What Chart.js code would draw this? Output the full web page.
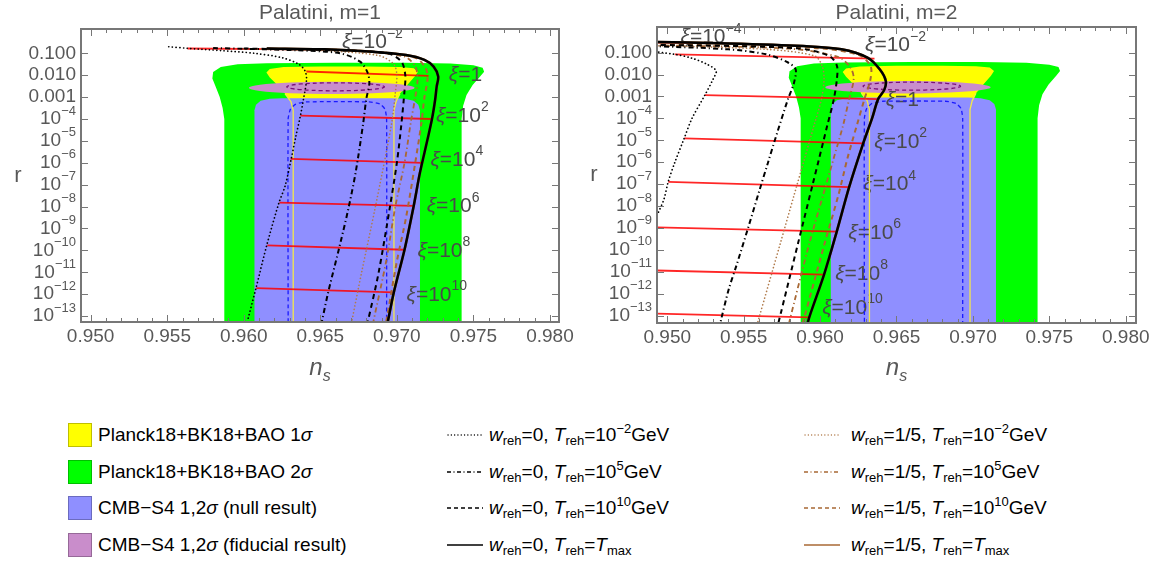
<!DOCTYPE html>
<html>
<head>
<meta charset="utf-8">
<script src="https://cdn.jsdelivr.net/npm/chart.js@4.4.1/dist/chart.umd.min.js"></script>
<style>
html,body{margin:0;padding:0;background:#fff;}
body{position:relative;width:1164px;height:565px;overflow:hidden;font-family:"Liberation Sans",Arial,sans-serif;}
canvas{position:absolute;top:0;}
#cL{left:0;}
#cR{left:582px;}
.sq{position:absolute;left:68px;width:24px;height:24px;box-sizing:border-box;border:1px solid rgba(0,0,0,0.25);}
.lt{position:absolute;height:24px;line-height:24px;font-size:19px;color:#000;white-space:nowrap;}
.lt sub{font-size:13px;vertical-align:-4px;line-height:0;}
.lt sup{font-size:13px;vertical-align:8px;line-height:0;}
svg{position:absolute;}
</style>
</head>
<body>
<canvas id="cL" width="582" height="400"></canvas>
<canvas id="cR" width="582" height="400"></canvas>

<div class="sq" style="top:423px;background:#ffff00"></div>
<div class="lt" style="left:98px;top:423px">Planck18+BK18+BAO 1<i>σ</i></div>
<div class="sq" style="top:460px;background:#00ff00"></div>
<div class="lt" style="left:98px;top:460px">Planck18+BK18+BAO 2<i>σ</i></div>
<div class="sq" style="top:496px;background:#8f8fff"></div>
<div class="lt" style="left:98px;top:496px">CMB−S4 1,2<i>σ</i> (null result)</div>
<div class="sq" style="top:533px;background:#c98dcb"></div>
<div class="lt" style="left:98px;top:533px">CMB−S4 1,2<i>σ</i> (fiducial result)</div>

<svg style="left:447px;top:430px" width="36" height="10"><line x1="1" y1="5" x2="35" y2="5" stroke="#000" stroke-width="1.3" stroke-linecap="round" stroke-dasharray="0.1 3.2"/></svg>
<div class="lt" style="left:489px;top:423px"><i>w</i><sub>reh</sub>=0, <i>T</i><sub>reh</sub>=10<sup>−2</sup>GeV</div>
<svg style="left:447px;top:467px" width="36" height="10"><line x1="0" y1="5" x2="36" y2="5" stroke="#000" stroke-width="1.3" stroke-dasharray="4 2.5 1 2.5"/></svg>
<div class="lt" style="left:489px;top:460px"><i>w</i><sub>reh</sub>=0, <i>T</i><sub>reh</sub>=10<sup>5</sup>GeV</div>
<svg style="left:447px;top:503px" width="36" height="10"><line x1="0" y1="5" x2="36" y2="5" stroke="#000" stroke-width="1.3" stroke-dasharray="4 3"/></svg>
<div class="lt" style="left:489px;top:496px"><i>w</i><sub>reh</sub>=0, <i>T</i><sub>reh</sub>=10<sup>10</sup>GeV</div>
<svg style="left:447px;top:540px" width="36" height="10"><line x1="0" y1="5" x2="36" y2="5" stroke="#000" stroke-width="1.6"/></svg>
<div class="lt" style="left:489px;top:533px"><i>w</i><sub>reh</sub>=0, <i>T</i><sub>reh</sub>=<i>T</i><sub>max</sub></div>

<svg style="left:804px;top:430px" width="36" height="10"><line x1="1" y1="5" x2="35" y2="5" stroke="#b07a4a" stroke-width="1.3" stroke-linecap="round" stroke-dasharray="0.1 3.2"/></svg>
<div class="lt" style="left:851px;top:423px"><i>w</i><sub>reh</sub>=1/5, <i>T</i><sub>reh</sub>=10<sup>−2</sup>GeV</div>
<svg style="left:804px;top:467px" width="36" height="10"><line x1="0" y1="5" x2="36" y2="5" stroke="#a86834" stroke-width="1.3" stroke-dasharray="4 2.5 1 2.5"/></svg>
<div class="lt" style="left:851px;top:460px"><i>w</i><sub>reh</sub>=1/5, <i>T</i><sub>reh</sub>=10<sup>5</sup>GeV</div>
<svg style="left:804px;top:503px" width="36" height="10"><line x1="0" y1="5" x2="36" y2="5" stroke="#a86834" stroke-width="1.3" stroke-dasharray="4 3"/></svg>
<div class="lt" style="left:851px;top:496px"><i>w</i><sub>reh</sub>=1/5, <i>T</i><sub>reh</sub>=10<sup>10</sup>GeV</div>
<svg style="left:804px;top:540px" width="36" height="10"><line x1="0" y1="5" x2="36" y2="5" stroke="#a86834" stroke-width="1.6"/></svg>
<div class="lt" style="left:851px;top:533px"><i>w</i><sub>reh</sub>=1/5, <i>T</i><sub>reh</sub>=<i>T</i><sub>max</sub></div>

<script>
// ---------------- axis ticks ----------------
const xTickValues = [0.950, 0.955, 0.960, 0.965, 0.970, 0.975, 0.980];
const xTickLabels = ['0.950', '0.955', '0.960', '0.965', '0.970', '0.975', '0.980'];
const xMinorTicks = [0.951,0.952,0.953,0.954,0.956,0.957,0.958,0.959,0.961,0.962,0.963,0.964,0.966,0.967,0.968,0.969,0.971,0.972,0.973,0.974,0.976,0.977,0.978,0.979];
const yTickExponents = [-13,-12,-11,-10,-9,-8,-7,-6,-5,-4,-3,-2,-1];
const yTickBase = ['10','10','10','10','10','10','10','10','10','10','0.001','0.010','0.100'];
const yTickSup  = ['−13','−12','−11','−10','−9','−8','−7','−6','−5','−4','','',''];

// ---------------- observational contours (ns, log10 r) ----------------
const greenNs  = [0.95873,0.95873,0.95862,0.95843,0.95818,0.95795,0.95800,0.95850,0.95960,0.96150,0.96600,0.97050,0.97350,0.97500,0.97560,0.97570,0.97545,0.97495,0.97455,0.97433,0.97423,0.97423];
const greenLog = [-13.6,-4.0,-3.5,-3.0,-2.55,-2.15,-1.85,-1.62,-1.50,-1.45,-1.43,-1.43,-1.46,-1.55,-1.66,-1.84,-2.05,-2.45,-2.9,-3.4,-4.0,-13.6];
const yellowNs  = [0.96323,0.96323,0.96308,0.96270,0.96220,0.96170,0.96148,0.96170,0.96260,0.96500,0.96800,0.97020,0.97110,0.97138,0.97118,0.97068,0.97020,0.96995,0.96981,0.96981];
const yellowLog = [-13.6,-3.6,-3.2,-2.85,-2.45,-2.1,-1.88,-1.72,-1.63,-1.60,-1.60,-1.62,-1.68,-1.84,-2.05,-2.45,-2.85,-3.2,-3.6,-13.6];
const yellowEdgeLNs = [0.96270,0.96308,0.96323,0.96323];
const yellowEdgeRNs = [0.97020,0.96995,0.96981,0.96981];
const yellowEdgeLog = [-2.85,-3.2,-3.6,-13.6];
const blueNs  = [0.96070,0.96070,0.96080,0.96110,0.96170,0.96250,0.96970,0.97050,0.97110,0.97140,0.97151,0.97151];
const blueLog = [-13.6,-3.6,-3.35,-3.17,-3.08,-3.05,-3.05,-3.08,-3.17,-3.35,-3.6,-13.6];
const blueDashNs  = [0.96290,0.96290,0.96305,0.96340,0.96410,0.96820,0.96890,0.96922,0.96933,0.96933];
const blueDashLog = [-13.6,-4.0,-3.55,-3.32,-3.22,-3.22,-3.32,-3.55,-4.0,-13.6];
const pinkNs  = [0.97135,0.97060,0.96855,0.96575,0.96295,0.96090,0.96015,0.96090,0.96295,0.96575,0.96855,0.97060];
const pinkLog = [-2.58,-2.435,-2.329,-2.29,-2.329,-2.435,-2.58,-2.725,-2.831,-2.87,-2.831,-2.725];
const pinkDashNs  = [0.96930,0.96886,0.96765,0.96600,0.96435,0.96314,0.96270,0.96314,0.96435,0.96600,0.96765,0.96886];
const pinkDashLog = [-2.53,-2.435,-2.366,-2.34,-2.366,-2.435,-2.53,-2.625,-2.694,-2.72,-2.694,-2.625];

// ---------------- Palatini m=1 ----------------
const m1DottedNs  = [0.9551,0.9563,0.9586,0.9607,0.9625,0.9636,0.9640,0.9641,0.9639,0.9637,0.9634,0.9631,0.9627,0.9623,0.9615,0.9608,0.9601];
const m1DottedLog = [-0.70,-0.77,-0.88,-1.00,-1.20,-1.50,-1.80,-2.20,-3.10,-3.85,-4.80,-5.82,-7.06,-7.82,-9.77,-11.72,-13.6];
const m1DashDotNs  = [0.9580,0.9634,0.9663,0.9676,0.9681,0.9682,0.9680,0.9678,0.9673,0.9668,0.9662,0.9655,0.9650];
const m1DashDotLog = [-0.76,-0.86,-1.00,-1.38,-1.90,-2.40,-3.10,-4.20,-6.47,-8.20,-9.98,-11.96,-13.6];
const m1DashedNs  = [0.9600,0.9658,0.9694,0.9703,0.97055,0.9705,0.9703,0.9700,0.96955,0.9688,0.9681,0.9680];
const m1DashedLog = [-0.78,-0.86,-1.00,-1.38,-2.00,-2.70,-4.20,-6.00,-8.00,-11.05,-13.27,-13.6];
const m1SolidNs  = [0.9615,0.9653,0.9682,0.9706,0.9718,0.9724,0.9727,0.9726,0.9725,0.9723,0.9720,0.9715,0.9711,0.9705,0.9698,0.9694,0.9693];
const m1SolidLog = [-0.78,-0.82,-0.92,-1.08,-1.30,-1.61,-2.06,-2.52,-3.12,-3.98,-4.94,-6.48,-7.97,-9.97,-11.92,-13.28,-13.6];
const m1BrDottedNs  = [0.9600,0.9650,0.9688,0.9698,0.9700,0.9699,0.96966,0.9686,0.9677,0.96705,0.9670];
const m1BrDottedLog = [-0.80,-0.88,-1.10,-1.50,-2.00,-2.80,-4.20,-8.00,-11.00,-13.28,-13.6];
const m1BrDashDotNs  = [0.9620,0.9670,0.9705,0.9712,0.97135,0.9712,0.9709,0.9705,0.9699,0.9693,0.96846,0.9684];
const m1BrDashDotLog = [-0.80,-0.88,-1.15,-1.60,-2.20,-3.00,-4.20,-6.00,-8.00,-10.50,-13.28,-13.6];
const m1BrDashedNs  = [0.9640,0.9680,0.9712,0.9719,0.9720,0.9718,0.9716,0.9712,0.9706,0.9700,0.9693,0.9692];
const m1BrDashedLog = [-0.80,-0.90,-1.20,-1.70,-2.20,-3.00,-4.20,-6.00,-8.50,-10.50,-13.28,-13.6];
const m1XiExp   = [-2,0,2,4,6,8,10];
const m1RedNs0  = [0.95633,0.96409,0.96370,0.96306,0.96233,0.96154,0.96082];
const m1RedNs1  = [0.96550,0.97207,0.97231,0.97171,0.97111,0.97046,0.96978];
const m1RedLog0 = [-0.78,-1.83,-3.85,-5.82,-7.82,-9.77,-11.72];
const m1RedLog1 = [-0.83,-2.03,-4.00,-6.00,-7.97,-9.97,-11.92];
const m1LabelNs  = [0.96641,0.97339,0.97255,0.97219,0.97195,0.97135,0.97063];
const m1LabelLog = [-0.51,-2.00,-3.86,-5.87,-8.00,-10.03,-12.04];

// ---------------- Palatini m=2 ----------------
const m2DottedNs  = [0.9480,0.9505,0.9516,0.9526,0.9532,0.9530,0.95246,0.9516,0.95111,0.9505,0.95007,0.94977,0.9494,0.9490];
const m2DottedLog = [-0.85,-1.08,-1.25,-1.53,-1.83,-2.21,-2.94,-4.03,-4.91,-6.00,-6.88,-7.72,-8.32,-9.00];
const m2DashDotNs  = [0.9490,0.9540,0.9565,0.9579,0.9584,0.9583,0.9579,0.9572,0.9566,0.9560,0.95526,0.95453,0.95404,0.95355,0.9534];
const m2DashDotLog = [-0.70,-0.85,-1.08,-1.45,-1.76,-2.36,-3.12,-4.64,-6.00,-7.36,-9.07,-10.71,-11.76,-13.11,-13.6];
const m2DashedNs  = [0.9490,0.9585,0.9606,0.9611,0.9611,0.9609,0.96047,0.95993,0.95952,0.95852,0.95799,0.95746,0.95730,0.95718];
const m2DashedLog = [-0.64,-0.80,-1.15,-1.60,-2.21,-3.12,-4.33,-5.85,-7.00,-9.81,-11.31,-12.81,-13.26,-13.6];
const m2SolidNs  = [0.9488,0.9540,0.9589,0.9614,0.9631,0.9639,0.9643,0.9642,0.9638,0.9634,0.96282,0.96190,0.96109,0.96026,0.95929,0.9591];
const m2SolidLog = [-0.51,-0.58,-0.70,-0.85,-1.23,-1.76,-2.29,-2.70,-3.12,-4.00,-5.14,-7.14,-9.17,-11.13,-13.08,-13.6];
const m2BrDottedNs  = [0.9490,0.9565,0.95965,0.96014,0.96026,0.96009,0.95960,0.9590,0.9583,0.9574,0.95594,0.9558];
const m2BrDottedLog = [-0.68,-0.85,-1.15,-1.61,-2.21,-3.12,-4.33,-5.80,-7.50,-9.70,-13.26,-13.6];
const m2BrDashDotNs  = [0.9490,0.9580,0.9612,0.9620,0.9622,0.9619,0.9615,0.9609,0.9602,0.9593,0.9580,0.95792];
const m2BrDashDotLog = [-0.66,-0.82,-1.20,-1.70,-2.20,-3.12,-4.33,-5.80,-7.50,-9.70,-13.26,-13.6];
const m2BrDashedNs  = [0.9490,0.9595,0.9625,0.9633,0.9633,0.9629,0.9624,0.9618,0.9612,0.9603,0.9589,0.95876];
const m2BrDashedLog = [-0.62,-0.78,-1.10,-1.60,-2.20,-3.12,-4.33,-5.80,-7.50,-9.70,-13.26,-13.6];
const m2XiExp   = [-4,-2,0,2,4,6,8,10];
const m2RedNs0  = [0.9485,0.9505,0.95246,0.95111,0.95007,0.9485,0.9485,0.9485];
const m2RedNs1  = [0.9515,0.96356,0.96380,0.96282,0.96190,0.96109,0.96026,0.95929];
const m2RedLog0 = [-0.53,-1.08,-2.94,-4.91,-6.90,-8.96,-10.93,-12.90];
const m2RedLog1 = [-0.56,-1.27,-3.12,-5.14,-7.14,-9.17,-11.13,-13.08];
const m2LabelNs  = [0.95087,0.96294,0.96429,0.96355,0.96283,0.96185,0.96099,0.96014];
const m2LabelLog = [-0.31,-0.68,-3.15,-5.08,-7.02,-9.23,-11.10,-12.66];

// ---------------- styling ----------------
const FONT = '"Liberation Sans", Arial, sans-serif';
const TXT = '#585858';
const FRAME = '#777777';
const BROWN = '#a86834';
const BROWN_LIGHT = '#b07a4a';
const RED = 'rgba(255,0,0,0.85)';
const TS = 19, LS = 21;

function pts(ns, lg) { return ns.map((v, i) => ({x: v, y: Math.pow(10, lg[i])})); }
function lineDs(ns, lg, color, width, dash, cap, tension) {
  return {data: pts(ns, lg), showLine: true, borderColor: color, borderWidth: width,
    borderDash: dash || [], borderCapStyle: cap || 'butt', pointRadius: 0, pointHoverRadius: 0,
    tension: tension === undefined ? 0.3 : tension, clip: 0, fill: false};
}
function areaDs(ns, lg, fillColor, smooth, stroke, strokeWidth, strokeDash) {
  return {data: pts(ns, lg), showLine: false, pointRadius: 0, pointHoverRadius: 0,
    areaFill: fillColor, areaSmooth: !!smooth, areaStroke: stroke || null,
    areaWidth: strokeWidth || 1, areaDash: strokeDash || []};
}

function drawPow(ctx, x, yc, base, exp, size, align) {
  ctx.textBaseline = 'middle'; ctx.textAlign = 'left';
  const es = Math.round(size * 0.68);
  ctx.font = size + 'px ' + FONT; const wb = ctx.measureText(base).width;
  ctx.font = es + 'px ' + FONT; const we = exp ? ctx.measureText(exp).width : 0;
  const x0 = align === 'right' ? x - wb - we : (align === 'center' ? x - (wb + we) / 2 : x);
  ctx.font = size + 'px ' + FONT; ctx.fillText(base, x0, yc);
  if (exp) { ctx.font = es + 'px ' + FONT; ctx.fillText(exp, x0 + wb, yc - size * 0.42); }
}
function drawXi(ctx, x, yc, exp) {
  ctx.textBaseline = 'middle'; ctx.textAlign = 'left'; ctx.fillStyle = '#4a4a4a';
  ctx.font = 'italic ' + LS + 'px ' + FONT; ctx.fillText('ξ', x, yc);
  const w = ctx.measureText('ξ').width;
  if (exp === 0) { ctx.font = LS + 'px ' + FONT; ctx.fillText('=1', x + w, yc); }
  else drawPow(ctx, x + w, yc, '=10', exp < 0 ? '−' + (-exp) : String(exp), LS, 'left');
}

function makePlugin(cfg) {
  return {
    id: 'panel' + cfg.name,
    beforeDatasetsDraw(chart) {
      const ctx = chart.ctx, a = chart.chartArea;
      ctx.save();
      ctx.beginPath(); ctx.rect(a.left, a.top, a.right - a.left, a.bottom - a.top); ctx.clip();
      chart.data.datasets.forEach((ds, i) => {
        if (!ds.areaFill && !ds.areaStroke) return;
        const p = chart.getDatasetMeta(i).data;
        ctx.beginPath();
        if (ds.areaSmooth) {
          const n = p.length;
          let mx = (p[n - 1].x + p[0].x) / 2, my = (p[n - 1].y + p[0].y) / 2;
          ctx.moveTo(mx, my);
          for (let j = 0; j < n; j++) {
            const q = p[(j + 1) % n];
            ctx.quadraticCurveTo(p[j].x, p[j].y, (p[j].x + q.x) / 2, (p[j].y + q.y) / 2);
          }
        } else {
          p.forEach((e, j) => j ? ctx.lineTo(e.x, e.y) : ctx.moveTo(e.x, e.y));
        }
        ctx.closePath();
        if (ds.areaFill) { ctx.fillStyle = ds.areaFill; ctx.fill(); }
        if (ds.areaStroke) {
          ctx.strokeStyle = ds.areaStroke; ctx.lineWidth = ds.areaWidth;
          ctx.setLineDash(ds.areaDash); ctx.stroke(); ctx.setLineDash([]);
        }
      });
      ctx.restore();
      ctx.save();
      const xs = chart.scales.x, ys = chart.scales.y;
      cfg.xiExp.forEach((e, i) => {
        drawXi(ctx, xs.getPixelForValue(cfg.labelNs[i]), ys.getPixelForValue(Math.pow(10, cfg.labelLog[i])), e);
      });
      ctx.restore();
    },
    afterDraw(chart) {
      const ctx = chart.ctx, a = chart.chartArea, xs = chart.scales.x, ys = chart.scales.y;
      ctx.save();
      ctx.strokeStyle = FRAME; ctx.lineWidth = 1;
      ctx.beginPath();
      xTickValues.forEach(v => {
        const px = Math.round(xs.getPixelForValue(v)) + 0.5;
        ctx.moveTo(px, a.bottom); ctx.lineTo(px, a.bottom - 7);
        ctx.moveTo(px, a.top); ctx.lineTo(px, a.top + 7);
      });
      xMinorTicks.forEach(v => {
        const px = Math.round(xs.getPixelForValue(v)) + 0.5;
        ctx.moveTo(px, a.bottom); ctx.lineTo(px, a.bottom - 4);
        ctx.moveTo(px, a.top); ctx.lineTo(px, a.top + 4);
      });
      yTickExponents.forEach(e => {
        const py = Math.round(ys.getPixelForValue(Math.pow(10, e))) + 0.5;
        ctx.moveTo(a.left, py); ctx.lineTo(a.left + 7, py);
        ctx.moveTo(a.right, py); ctx.lineTo(a.right - 7, py);
      });
      ctx.stroke();
      ctx.lineWidth = 2;
      ctx.strokeRect(a.left, a.top, a.right - a.left, a.bottom - a.top);
      // tick labels
      ctx.fillStyle = TXT;
      ctx.font = TS + 'px ' + FONT; ctx.textAlign = 'center'; ctx.textBaseline = 'middle';
      xTickValues.forEach((v, i) => ctx.fillText(xTickLabels[i], xs.getPixelForValue(v), a.bottom + 15));
      yTickExponents.forEach((e, i) => {
        drawPow(ctx, a.left - 5, ys.getPixelForValue(Math.pow(10, e)), yTickBase[i], yTickSup[i], TS, 'right');
      });
      // title
      ctx.font = '21px ' + FONT; ctx.textAlign = 'center'; ctx.textBaseline = 'middle';
      ctx.fillText(cfg.title, (a.left + a.right) / 2, 13);
      // axis labels
      ctx.font = '22px ' + FONT; ctx.fillText('r', a.left - 63, (a.top + a.bottom) / 2);
      const cx = (a.left + a.right) / 2;
      ctx.textAlign = 'left'; ctx.textBaseline = 'alphabetic';
      ctx.font = 'italic 24px ' + FONT; const wn = ctx.measureText('n').width;
      ctx.font = 'italic 16px ' + FONT; const wsub = ctx.measureText('s').width;
      const x0 = cx - (wn + wsub) / 2;
      ctx.font = 'italic 24px ' + FONT; ctx.fillText('n', x0, 375);
      ctx.font = 'italic 16px ' + FONT; ctx.fillText('s', x0 + wn, 381);
      ctx.restore();
    }
  };
}

function buildDatasets(c) {
  const list = [];
  list.push(areaDs(greenNs, greenLog, '#00ff00'));
  list.push(areaDs(yellowNs, yellowLog, '#ffff00'));
  list.push(areaDs(pinkNs, pinkLog, '#c98dcb', true));
  list.push(areaDs(blueNs, blueLog, '#8f8fff'));
  list.push(areaDs(pinkDashNs, pinkDashLog, null, true, '#7a107a', 1.3, [4, 3]));
  list.push(lineDs(yellowEdgeLNs, yellowEdgeLog, '#f4e84a', 1.3, [], 'butt', 0));
  list.push(lineDs(yellowEdgeRNs, yellowEdgeLog, '#f4e84a', 1.3, [], 'butt', 0));
  list.push(lineDs(blueDashNs, blueDashLog, '#1a1aff', 1.3, [4, 3], 'butt', 0.2));
  c.redNs0.forEach((v, i) => {
    list.push(lineDs([c.redNs0[i], c.redNs1[i]], [c.redLog0[i], c.redLog1[i]], RED, 1.8, [], 'butt', 0));
  });
  list.push(lineDs(c.solidNs, c.solidLog, BROWN, 2.5));
  list.push(lineDs(c.brDottedNs, c.brDottedLog, BROWN_LIGHT, 1.6, [0.1, 3.4], 'round'));
  list.push(lineDs(c.brDashDotNs, c.brDashDotLog, BROWN, 1.8, [5, 3, 1.2, 3]));
  list.push(lineDs(c.brDashedNs, c.brDashedLog, BROWN, 2, [5, 4]));
  list.push(lineDs(c.dottedNs, c.dottedLog, '#000', 1.7, [0.1, 3.6], 'round'));
  list.push(lineDs(c.dashDotNs, c.dashDotLog, '#000', 2, [5, 3, 1.2, 3]));
  list.push(lineDs(c.dashedNs, c.dashedLog, '#000', 2, [5, 4]));
  list.push(lineDs(c.solidNs, c.solidLog, '#000', 2.5));
  const N = list.length;
  list.forEach((d, i) => { d.order = N - i; });
  return list;
}

function makeChart(id, c) {
  return new Chart(document.getElementById(id), {
    type: 'scatter',
    data: {datasets: buildDatasets(c)},
    options: {
      responsive: false, animation: false, events: [],
      layout: {padding: c.padding},
      plugins: {legend: {display: false}, tooltip: {enabled: false}, title: {display: false}},
      scales: {
        x: {type: 'linear', min: c.xMin, max: c.xMax, display: false, bounds: 'data'},
        y: {type: 'logarithmic', min: Math.pow(10, c.yMinLog), max: Math.pow(10, c.yMaxLog), display: false, bounds: 'data'}
      }
    },
    plugins: [makePlugin(c)]
  });
}

makeChart('cL', {
  name: 'L', title: 'Palatini, m=1',
  padding: {left: 81, right: 23, top: 29, bottom: 78},
  xMin: 0.94937, xMax: 0.98059, yMinLog: -13.27, yMaxLog: 0.11,
  dottedNs: m1DottedNs, dottedLog: m1DottedLog, dashDotNs: m1DashDotNs, dashDotLog: m1DashDotLog,
  dashedNs: m1DashedNs, dashedLog: m1DashedLog, solidNs: m1SolidNs, solidLog: m1SolidLog,
  brDottedNs: m1BrDottedNs, brDottedLog: m1BrDottedLog, brDashDotNs: m1BrDashDotNs, brDashDotLog: m1BrDashDotLog,
  brDashedNs: m1BrDashedNs, brDashedLog: m1BrDashedLog,
  redNs0: m1RedNs0, redNs1: m1RedNs1, redLog0: m1RedLog0, redLog1: m1RedLog1,
  xiExp: m1XiExp, labelNs: m1LabelNs, labelLog: m1LabelLog
});
makeChart('cR', {
  name: 'R', title: 'Palatini, m=2',
  padding: {left: 75, right: 28, top: 27, bottom: 77},
  xMin: 0.94933, xMax: 0.98067, yMinLog: -13.34, yMaxLog: 0.17,
  dottedNs: m2DottedNs, dottedLog: m2DottedLog, dashDotNs: m2DashDotNs, dashDotLog: m2DashDotLog,
  dashedNs: m2DashedNs, dashedLog: m2DashedLog, solidNs: m2SolidNs, solidLog: m2SolidLog,
  brDottedNs: m2BrDottedNs, brDottedLog: m2BrDottedLog, brDashDotNs: m2BrDashDotNs, brDashDotLog: m2BrDashDotLog,
  brDashedNs: m2BrDashedNs, brDashedLog: m2BrDashedLog,
  redNs0: m2RedNs0, redNs1: m2RedNs1, redLog0: m2RedLog0, redLog1: m2RedLog1,
  xiExp: m2XiExp, labelNs: m2LabelNs, labelLog: m2LabelLog
});
</script>
</body>
</html>
